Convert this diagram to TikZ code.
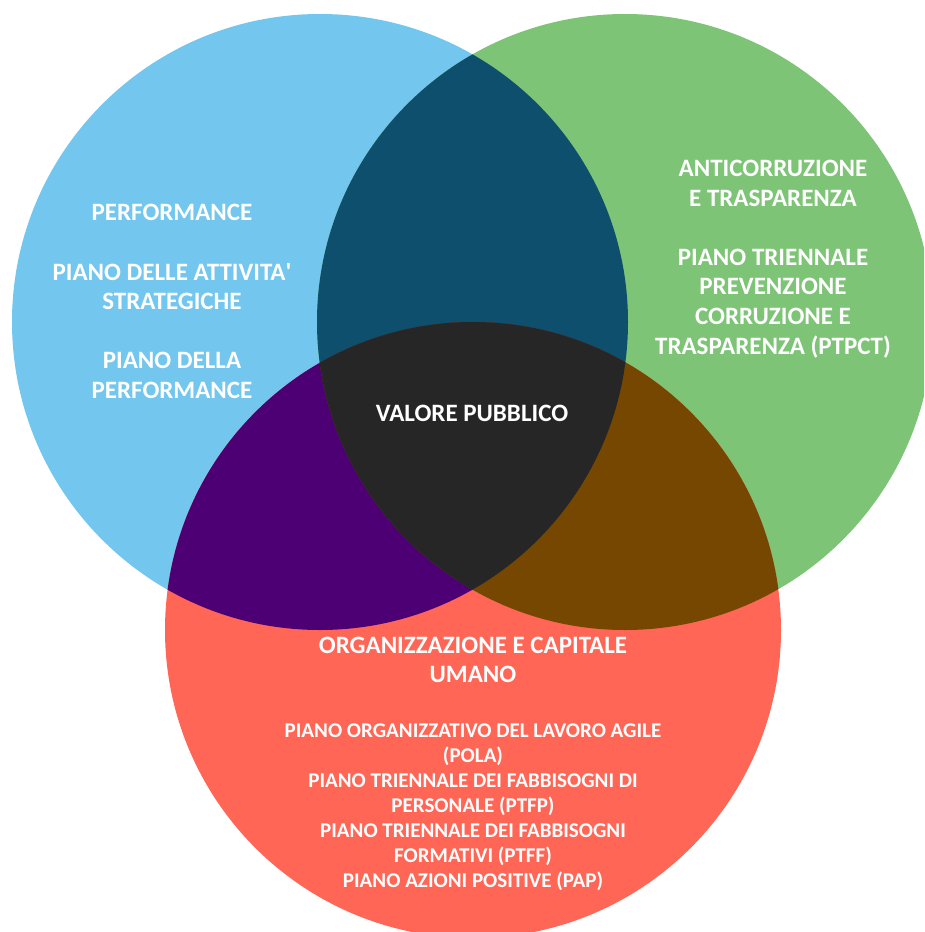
\documentclass[tikz,border=0pt]{standalone}
\usepackage{fontspec}
\setmainfont{Carlito}
\definecolor{cblue}{HTML}{73C6ED}
\definecolor{cgreen}{HTML}{7DC476}
\definecolor{cred}{HTML}{FF6656}
\definecolor{cbg}{HTML}{0E4F6E}
\definecolor{cbr}{HTML}{4C0074}
\definecolor{cgr}{HTML}{754700}
\definecolor{cmid}{HTML}{262626}
\begin{document}
\begin{tikzpicture}[x=1pt,y=-1pt,
  lbl/.style={text=white,font=\bfseries\fontsize{25}{29.6}\selectfont,align=center,inner sep=0pt},
  sml/.style={text=white,font=\bfseries\fontsize{21}{25}\selectfont,align=center,inner sep=0pt}]
\useasboundingbox (0,0) rectangle (924,932);
\clip (0,0) rectangle (924,932);
\def\blueC{(320,322) circle (308)}
\def\greenC{(625,322) circle (308)}
\def\redC{(473,630) circle (308)}
\fill[cblue] \blueC;
\fill[cgreen] \greenC;
\fill[cred] \redC;
\begin{scope}\clip \blueC; \fill[cbg] \greenC; \end{scope}
\begin{scope}\clip \blueC; \fill[cbr] \redC; \end{scope}
\begin{scope}\clip \greenC; \fill[cgr] \redC; \end{scope}
\begin{scope}\clip \blueC; \clip \greenC; \fill[cmid] \redC; \end{scope}
\node[lbl] (perf) at (172,301.5) {PERFORMANCE\\[29.6pt]PIANO DELLE ATTIVITA\textquotesingle\\STRATEGICHE\\[29.6pt]PIANO DELLA\\PERFORMANCE};
\node[lbl] (anti) at (773,259) {ANTICORRUZIONE\\E TRASPARENZA\\[29.6pt]PIANO TRIENNALE\\PREVENZIONE\\CORRUZIONE E\\TRASPARENZA (PTPCT)};
\node[lbl] (valore) at (472,413) {VALORE PUBBLICO};
\node[lbl] (org) at (473,660) {ORGANIZZAZIONE E CAPITALE\\UMANO};
\node[sml] (piani) at (473,807) {PIANO ORGANIZZATIVO DEL LAVORO AGILE\\(POLA)\\PIANO TRIENNALE DEI FABBISOGNI DI\\PERSONALE (PTFP)\\PIANO TRIENNALE DEI FABBISOGNI\\FORMATIVI (PTFF)\\PIANO AZIONI POSITIVE (PAP)};
\end{tikzpicture}
\end{document}
